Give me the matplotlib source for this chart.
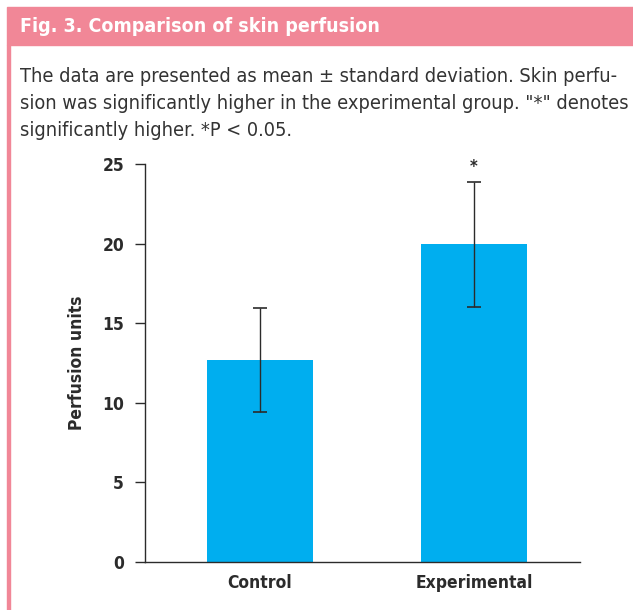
import matplotlib.pyplot as plt
from matplotlib.patches import Rectangle

# Data
groups = ["Control", "Experimental"]
means = [12.7, 19.95]
sds = [3.25, 3.95]
yticks = [0, 5, 10, 15, 20, 25]

pink = "#F18797"
blue = "#00AEEF"
dark = "#2b2b2b"

plt.rcParams['font.family'] = ['DejaVu Sans']
plt.rcParams['font.stretch'] = 'condensed'

fig = plt.figure(figsize=(6.33, 6.10), dpi=100)

# header band and left rule
fig.patches.append(Rectangle((7 / 633, 1 - 45 / 610), 1, 38 / 610,
                             transform=fig.transFigure, color=pink, zorder=0))
fig.patches.append(Rectangle((7 / 633, 0), 3 / 633, 1 - 45 / 610,
                             transform=fig.transFigure, color=pink, zorder=0))
fig.text(20 / 633, 1 - 26 / 610, "Fig. 3. Comparison of skin perfusion",
         color="white", fontsize=14, fontweight="bold", va="center", ha="left")

caption = [
    "The data are presented as mean \u00b1 standard deviation. Skin perfu-",
    "sion was significantly higher in the experimental group. \"*\" denotes",
    "significantly higher. *P < 0.05.",
]
cap_texts = []
for i, line in enumerate(caption):
    t = fig.text(20 / 633, 1 - (77 + i * 26.5) / 610, line, color="#333333",
                 fontsize=13, va="center", ha="left")
    cap_texts.append(t)

# shrink caption so the two full lines fit the reference width
renderer = fig.canvas.get_renderer()
w = max(t.get_window_extent(renderer).width for t in cap_texts[:2])
for t in cap_texts:
    t.set_fontsize(13 * 606 / w)

ax = fig.add_axes([145 / 633, 1 - 562 / 610, 435 / 633, 398 / 610])
x = range(len(groups))
ax.bar(x, means, width=0.495, color=blue, zorder=2)
ax.errorbar(x, means, yerr=sds, fmt="none", ecolor=dark, elinewidth=1,
            capsize=5, capthick=1.2, zorder=3)
ax.text(1, means[1] + sds[1] + 0.9, "*", ha="center", va="center",
        fontsize=12, fontweight="bold", color=dark)

ax.set_xlim(-0.537, 1.495)
ax.set_ylim(0, 25)
ax.set_yticks(yticks)
ax.set_xticks(list(x))
ax.set_xticklabels(groups, fontsize=12.5, fontweight="bold", color=dark)
ax.tick_params(axis="x", length=0, pad=9)
ax.tick_params(axis="y", length=7, width=1, color=dark, pad=8,
               labelsize=12.5, labelcolor=dark)
for lab in ax.get_yticklabels():
    lab.set_fontweight("bold")
ax.set_ylabel("Perfusion units", fontsize=12.5, fontweight="bold",
              color=dark, labelpad=12)
for side in ["top", "right"]:
    ax.spines[side].set_visible(False)
for side in ["left", "bottom"]:
    ax.spines[side].set_color(dark)
    ax.spines[side].set_linewidth(1)

fig.savefig("out.png", dpi=100)
